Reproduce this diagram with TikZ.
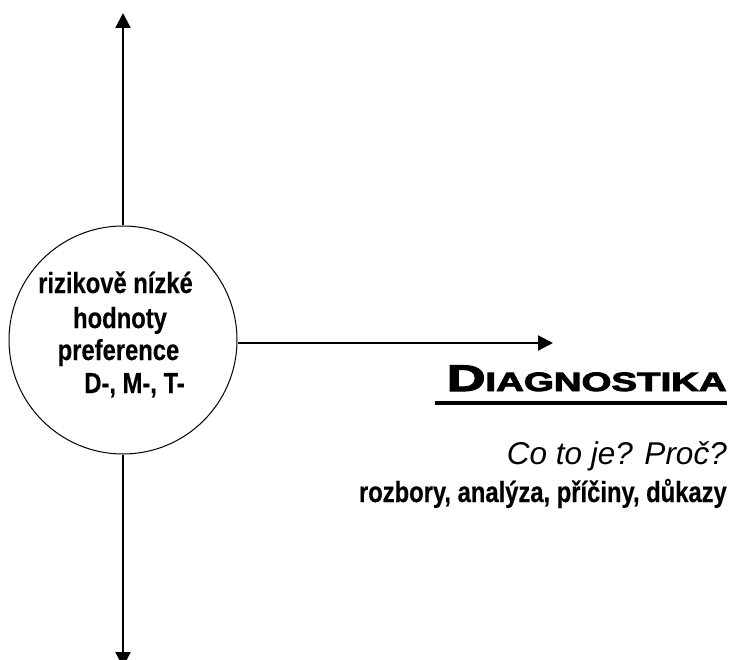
\documentclass[tikz,border=0pt]{standalone}
\usepackage{fontspec}
\setmainfont{Liberation Sans}
\newfontfamily\narrowb[FakeStretch=0.82,FakeBold=0.4]{Liberation Sans Bold}
\newfontfamily\heavy[FakeBold=3]{Liberation Sans Bold}
\usetikzlibrary{arrows.meta}
\begin{document}
\begin{tikzpicture}[x=1pt,y=-1pt,
  axis/.style={line width=2.2pt,-{Triangle[length=15pt,width=15pt]}},
  ctext/.style={font=\narrowb\fontsize{29}{29}\selectfont,anchor=base,inner sep=0pt},
  rtext/.style={anchor=base east,inner sep=0pt}]
\useasboundingbox (0,0) rectangle (730,660);
\node[circle,draw,line width=1pt,minimum size=228pt,inner sep=0pt] (c) at (123,340) {};
\coordinate (top) at (123,13);
\coordinate (bot) at (123,667);
\coordinate (right) at (553,343);
\draw[axis] (c.north) -- (top);
\draw[axis] (c.south) -- (bot);
\draw[axis] (c.east |- right) -- (right);
\node[ctext] (l1) at (115.5,293) {rizikově nízké};
\node[ctext] (l2) at (120,328) {hodnoty};
\node[ctext] (l3) at (118.5,360) {preference};
\node[ctext] (l4) at (134.5,393) {D-, M-, T-};
\node[rtext,xscale=1.45] (diag) at (727,391) {\heavy\fontsize{37}{37}\selectfont D\fontsize{26.5}{26.5}\selectfont IAGNOSTIKA};
\coordinate (ul) at (435,403);
\draw[line width=3.5pt] (ul) -- (diag.east |- ul);
\node[rtext,font=\fontsize{31.5}{31.5}\selectfont\itshape] (q) at (727,464) {Co to je? Proč?};
\node[rtext,font=\narrowb\fontsize{29}{29}\selectfont] (r) at (727,502) {rozbory, analýza, příčiny, důkazy};
\end{tikzpicture}
\end{document}
